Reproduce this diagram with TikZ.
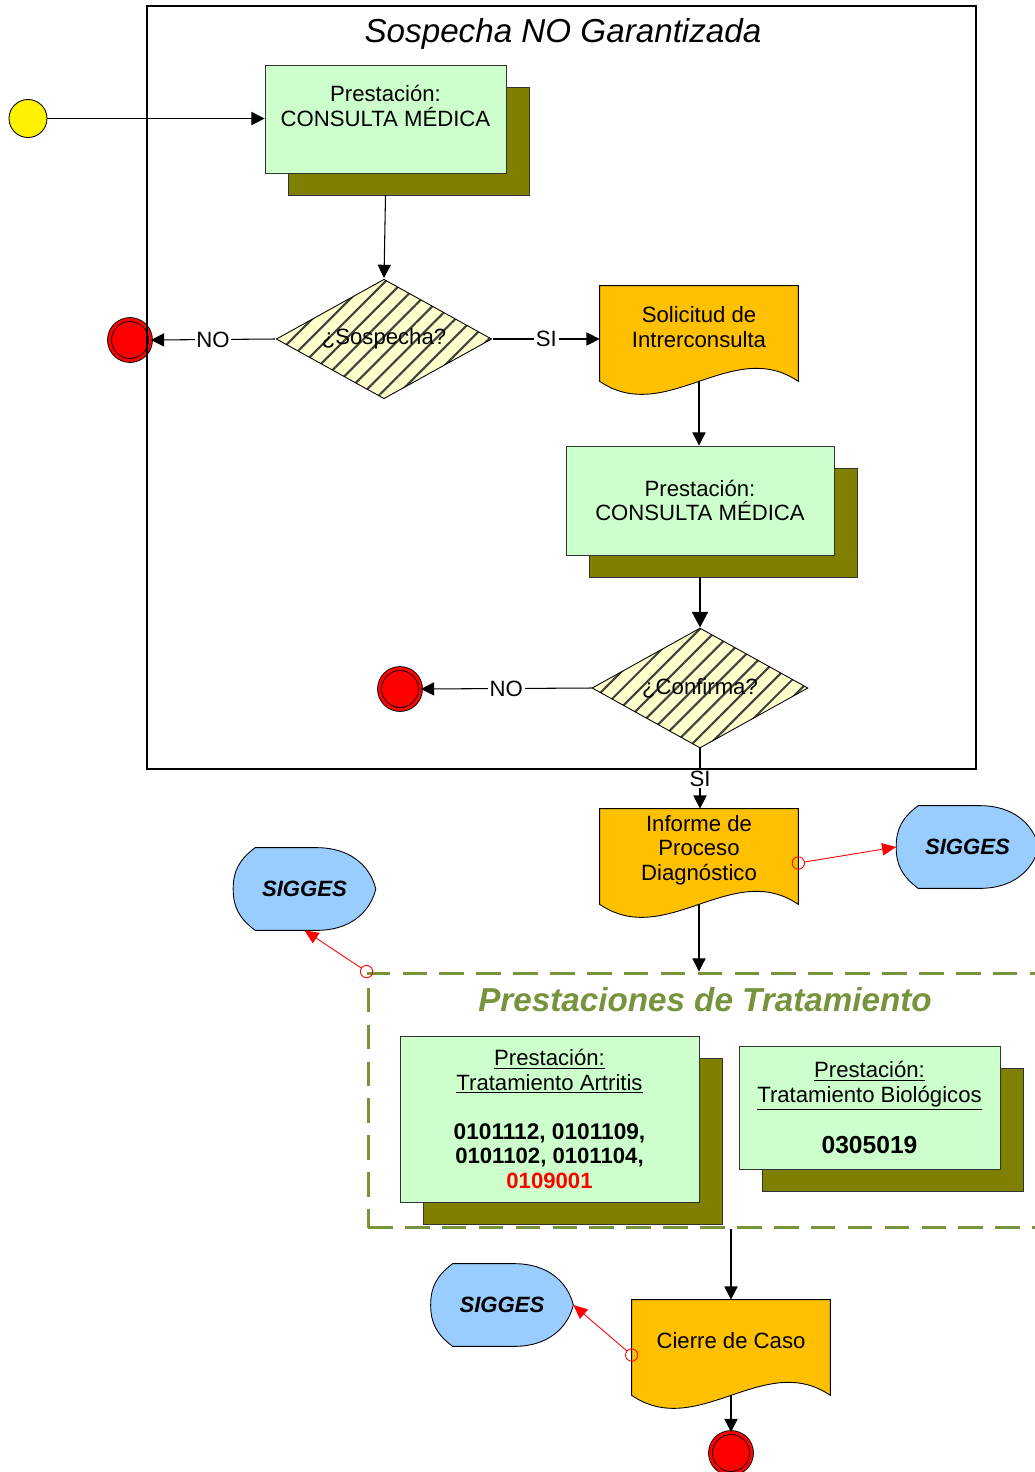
\documentclass[tikz,border=0pt]{standalone}
\usepackage{fontspec}
\setmainfont{Liberation Sans}
\usetikzlibrary{shapes.geometric, arrows.meta, positioning, calc, shadows, patterns.meta, backgrounds}

\definecolor{verdeclaro}{HTML}{CCFFCC}
\definecolor{oliva}{HTML}{808000}
\definecolor{naranja}{HTML}{FFC000}
\definecolor{celeste}{HTML}{99CCFF}
\definecolor{amarillo}{HTML}{FFFFCC}
\definecolor{verdeoscuro}{HTML}{77933C}

% forma de documento (borde inferior ondulado)
\newcommand{\documento}[1]{%
  \begin{scope}[on background layer]
    \draw[fill=naranja, line width=0.5pt] (#1.north west) -- ($(#1.south west)+(0,13)$)
      .. controls +(66,45) and +(-66,-45) .. ($(#1.south east)+(0,13)$) -- (#1.north east) -- cycle;
  \end{scope}
  \coordinate (#1-pie) at ($(#1.south)+(0,13)$);}

% forma de pantalla (SIGGES)
\newcommand{\pantalla}[1]{%
  \begin{scope}[on background layer]
    \draw[fill=celeste, line width=0.5pt] ($(#1.north west)+(22,0)$) -- ($(#1.north west)+(84,0)$)
      .. controls +(32,0) and +(-6,-24) .. (#1.east)
      .. controls +(-6,24) and +(32,0) .. ($(#1.south west)+(84,0)$) -- ($(#1.south west)+(22,0)$)
      .. controls +(-16,-12) and +(0,18) .. (#1.west)
      .. controls +(0,-18) and +(-16,12) .. ($(#1.north west)+(22,0)$) -- cycle;
  \end{scope}}

\tikzset{
  every node/.style={font=\fontsize{12.6}{14}\selectfont},
  inicio/.style={circle, fill=yellow, draw=black, line width=0.5pt, minimum size=0.76cm, inner sep=0pt},
  fin/.style={circle, fill=red, draw=black, line width=0.5pt, double=red, double distance=1.7pt, minimum size=0.82cm, inner sep=0pt},
  prestacion/.style={rectangle, draw=black!80, line width=0.5pt, fill=verdeclaro, align=center,
    drop shadow={shadow xshift=13.6pt, shadow yshift=-12.5pt, fill=oliva, draw=black!80, opacity=1}},
  decision/.style={diamond, draw=black, line width=0.5pt, aspect=1.8, inner sep=0pt,
    minimum width=4.32cm, minimum height=2.4cm, preaction={fill=amarillo},
    pattern={Lines[angle=45,distance=7.2pt,line width=1.2pt]}, pattern color=black!75},
  doc/.style={minimum width=3.96cm, minimum height=1.64cm, inner sep=0pt, align=center},
  sigges/.style={minimum width=2.84cm, minimum height=1.64cm, inner sep=0pt, font=\fontsize{12.6}{14}\selectfont\bfseries\itshape},
  grupo/.style={draw=verdeoscuro, line width=1.7pt, dash pattern=on 14pt off 7pt, minimum width=13.54cm, minimum height=5.1cm},
  marco/.style={draw=black, line width=1.1pt, minimum width=16.58cm, minimum height=15.26cm},
  flecha/.style={line width=0.6pt, -{Triangle[length=7.5pt,width=7.5pt]}},
  gruesa/.style={line width=1.6pt, -{Triangle[length=9pt,width=9pt]}},
  enlace/.style={red, line width=0.5pt, {Circle[open,length=7.5pt,width=7.5pt]}-{Triangle[length=8pt,width=7pt]}, shorten <=-3.75pt},
  etiqueta/.style={fill=white, inner sep=1pt},
}

\begin{document}
\begin{tikzpicture}[x=0.02cm, y=-0.02cm]
  \useasboundingbox (0,0) rectangle (1035,1472);

  % Sospecha
  \node[font=\fontsize{18.9}{22}\selectfont\itshape] (titulo) at (563,34) {Sospecha NO Garantizada};
  \node[inicio] (ini) at (28,118.5) {};
  \node[prestacion, minimum width=4.82cm, minimum height=2.16cm] (pm1) at (385.5,119) {Prestación:\\CONSULTA MÉDICA\\[-3.4pt]\strut};
  \node[decision] (sosp) at (384,339) {¿Sospecha?};
  \node[fin] (fin1) at (130,340) {};
  \node[doc] (sol) at (699,327) {Solicitud de\\Intrerconsulta};
  \documento{sol}
  \node[prestacion, minimum width=5.36cm, minimum height=2.18cm] (pm2) at (700,500.5) {Prestación:\\CONSULTA MÉDICA};
  \node[decision] (conf) at (700,688) {¿Confirma?};
  \node[fin] (fin2) at (400,689) {};

  % Diagnostico
  \node[doc] (inf) at (699,850) {Informe de\\Proceso\\Diagnóstico};
  \documento{inf}
  \node[sigges] (sigR) at (967.5,847) {SIGGES};
  \pantalla{sigR}
  \node[sigges] (sigL) at (304.5,889) {SIGGES};
  \pantalla{sigL}

  % Tratamiento
  \node[grupo] (trat) at (706.5,1100.5) {};
  \node[font=\fontsize{18.9}{22}\selectfont\bfseries\itshape, text=verdeoscuro] (titulo2) at (705,1000) {Prestaciones de Tratamiento};
  \node[prestacion, minimum width=5.98cm, minimum height=3.32cm] (art) at (549.5,1119)
    {\underline{Prestación:}\\\underline{Tratamiento Artritis}\\[14pt]\fontsize{12.9}{14}\selectfont\textbf{0101112, 0101109,}\\\textbf{0101102, 0101104,}\\\textbf{\color{red}0109001}};
  \node[prestacion, minimum width=5.22cm, minimum height=2.46cm] (bio) at (869.5,1107.5)
    {\underline{Prestación:}\\\underline{Tratamiento Biológicos}\\[14pt]\fontsize{14}{14}\selectfont\textbf{0305019}};

  % Cierre
  \node[doc] (cie) at (731,1341) {Cierre de Caso};
  \documento{cie}
  \node[sigges] (sigB) at (502,1305) {SIGGES};
  \pantalla{sigB}
  \node[fin] (fin3) at (731,1453) {};

  % conectores
  \draw[flecha] (ini.east) -- (ini -| pm1.west);
  \draw[flecha] ($(pm1.south)+(0,22)$) -- (sosp.north);
  \draw[flecha] (sosp.west) -- node[etiqueta]{NO} (fin1.east);
  \draw[flecha] (sosp.east) -- node[etiqueta]{SI} (sosp.east -| sol.west);
  \draw[flecha] (sol-pie) -- (sol-pie |- pm2.north);
  \draw[gruesa] ($(pm2.south)+(0,22)$) -- (conf.north);
  \draw[flecha] (conf.west) -- node[etiqueta]{NO} (fin2.east);
  \draw[flecha] (conf.south) -- node[etiqueta]{SI} (conf.south |- inf.north);
  \draw[flecha] (inf-pie) -- (inf-pie |- trat.north);
  \draw[flecha] (cie.north |- trat.south) -- (cie.north);
  \draw[flecha] (cie-pie) -- (fin3.north);
  \draw[enlace] ($(inf.east)+(0,13)$) -- (sigR.west);
  \draw[enlace] (trat.north west) -- (sigL.south);
  \draw[enlace] ($(cie.west)+(0,14)$) -- (sigB.east);

  \node[marco] (marco) at (561.5,387.5) {};
\end{tikzpicture}
\end{document}
